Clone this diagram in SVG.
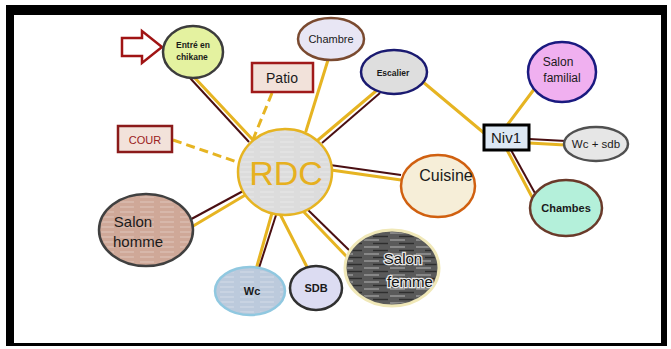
<svg xmlns="http://www.w3.org/2000/svg" width="671" height="349" viewBox="0 0 671 349">
<defs>
<style>
.lbl{font-family:"Liberation Sans","DejaVu Sans",sans-serif;fill:#1a1a1a;text-anchor:middle}
.gold{stroke:#e6b422;stroke-width:3;fill:none;stroke-linecap:round}
.maroon{stroke:#4a0f12;stroke-width:2;fill:none}
.dash{stroke:#e6b422;stroke-width:3;fill:none;stroke-dasharray:9 5}
</style>
<pattern id="streak" width="20" height="5" patternUnits="userSpaceOnUse">
<rect width="20" height="5" fill="none"/>
<line x1="0" y1="2" x2="14" y2="2" stroke="#ffffff" stroke-opacity="0.35" stroke-width="1"/>
</pattern>
<pattern id="streakW" width="26" height="7" patternUnits="userSpaceOnUse">
<line x1="0" y1="2" x2="15" y2="2" stroke="#ffffff" stroke-opacity="0.45" stroke-width="1.2"/>
<line x1="9" y1="5.5" x2="24" y2="5.5" stroke="#111" stroke-opacity="0.6" stroke-width="1.5"/>
</pattern>
</defs>
<rect width="671" height="349" fill="#ffffff"/>
<g id="frame">
<rect x="6" y="5" width="661" height="341" fill="#000"/>
<rect x="14" y="15" width="647" height="328" fill="#fff"/>
</g>
<g id="connectors">
<line class="dash" x1="272" y1="93" x2="252" y2="142"/>
<line class="dash" x1="173" y1="140" x2="240" y2="163"/>
<line class="maroon" x1="190" y1="78" x2="249" y2="142"/>
<line class="gold" x1="194" y1="77" x2="253" y2="140"/>
<line class="gold" x1="328" y1="60" x2="306" y2="131"/>
<line class="maroon" x1="380" y1="93" x2="322" y2="143"/>
<line class="gold" x1="376" y1="91" x2="318" y2="140"/>
<line class="maroon" x1="330" y1="165" x2="401" y2="175"/>
<line class="gold" x1="331" y1="170" x2="401" y2="180"/>
<line class="maroon" x1="245" y1="190" x2="184" y2="223"/>
<line class="gold" x1="247" y1="194" x2="173" y2="238"/>
<line class="gold" x1="272" y1="213" x2="253" y2="280"/>
<line class="maroon" x1="277" y1="212" x2="258" y2="271"/>
<line class="gold" x1="280" y1="214" x2="307" y2="267"/>
<line class="maroon" x1="306" y1="208" x2="351" y2="252"/>
<line class="gold" x1="302" y1="210" x2="347" y2="257"/>
<line class="gold" x1="423" y1="82" x2="484" y2="133"/>
<line class="gold" x1="508" y1="124" x2="535" y2="88"/>
<line class="maroon" x1="529" y1="139" x2="566" y2="141"/>
<line class="gold" x1="529" y1="143" x2="565" y2="145"/>
<line class="maroon" x1="511" y1="150" x2="536" y2="195"/>
<line class="gold" x1="507" y1="150" x2="532" y2="197"/>
</g>
<g id="entry-arrow">
<path d="M122,38 H142 V31 L162,47 L142,63 V56 H122 Z" fill="#fff" stroke="#a01414" stroke-width="2.5" stroke-linejoin="miter"/>
</g>
<g id="entre">
<ellipse cx="193" cy="52" rx="30" ry="26" fill="#e4f2a0" stroke="#3c3c3c" stroke-width="2.5"/>
<text class="lbl" x="193" y="48" font-size="8.5" font-weight="bold">Entré en</text>
<text class="lbl" x="192" y="60" font-size="8.5" font-weight="bold">chikane</text>
</g>
<g id="chambre">
<ellipse cx="331" cy="39" rx="33" ry="21" fill="#e8e6f4" stroke="#7a4a30" stroke-width="2.5"/>
<text class="lbl" x="331" y="43" font-size="11">Chambre</text>
</g>
<g id="patio">
<rect x="252" y="63" width="61" height="29" fill="#f2e2da" stroke="#a01a1a" stroke-width="2.5"/>
<text class="lbl" x="282" y="83" font-size="14">Patio</text>
</g>
<g id="escalier">
<ellipse cx="394" cy="72" rx="33" ry="22" fill="#dedede" stroke="#1a1a70" stroke-width="2.5"/>
<text class="lbl" x="393" y="76" font-size="8.5" font-weight="bold">Escalier</text>
</g>
<g id="cour">
<rect x="118" y="126" width="54" height="26" fill="#f2e2da" stroke="#8b1a1a" stroke-width="2.5"/>
<text class="lbl" x="145" y="144" font-size="11" style="fill:#9a2020">COUR</text>
</g>
<g id="rdc">
<ellipse cx="285" cy="172" rx="47" ry="43" fill="#dcdcdc" stroke="#e6b422" stroke-width="2.5"/>
<ellipse cx="285" cy="172" rx="45" ry="41" fill="url(#streak)"/>
<text class="lbl" x="286" y="185" font-size="34" style="fill:#e6b020">RDC</text>
</g>
<g id="cuisine">
<ellipse cx="438" cy="186" rx="37" ry="31" fill="#f6eed8" stroke="#d06010" stroke-width="2.5"/>
<text class="lbl" x="446" y="181" font-size="16">Cuisine</text>
</g>
<g id="niv1">
<rect x="484" y="125" width="45" height="25" fill="#dde8f4" stroke="#000" stroke-width="3"/>
<text class="lbl" x="506" y="143" font-size="15">Niv1</text>
</g>
<g id="salon-familial">
<ellipse cx="562" cy="72" rx="34" ry="30" fill="#f0b0f0" stroke="#1a1a80" stroke-width="2.5"/>
<text class="lbl" x="558" y="66" font-size="12">Salon</text>
<text class="lbl" x="562" y="82" font-size="12">familial</text>
</g>
<g id="wc-sdb">
<ellipse cx="596" cy="144" rx="32" ry="17" fill="#e6e6e6" stroke="#505050" stroke-width="2.5"/>
<text class="lbl" x="596" y="148" font-size="11.5">Wc + sdb</text>
</g>
<g id="chambes">
<ellipse cx="566" cy="208" rx="36" ry="28" fill="#b4f0da" stroke="#6a3a2a" stroke-width="2.5"/>
<text class="lbl" x="566" y="212" font-size="11" font-weight="bold">Chambes</text>
</g>
<g id="salon-homme">
<ellipse cx="146" cy="230" rx="47" ry="36" fill="#cfa898" stroke="#404040" stroke-width="2.5"/>
<ellipse cx="146" cy="230" rx="45" ry="34" fill="url(#streak)"/>
<text class="lbl" x="133" y="227" font-size="15">Salon</text>
<text class="lbl" x="138" y="247" font-size="15">homme</text>
</g>
<g id="wc">
<ellipse cx="250" cy="291" rx="35" ry="24" fill="#bccadc" stroke="#90c8e0" stroke-width="2.5"/>
<ellipse cx="250" cy="291" rx="33" ry="22" fill="url(#streak)"/>
<text class="lbl" x="252" y="295" font-size="11" font-weight="bold">Wc</text>
</g>
<g id="sdb">
<ellipse cx="316" cy="288" rx="26" ry="22" fill="#dcdcf2" stroke="#303030" stroke-width="2.5"/>
<text class="lbl" x="316" y="292" font-size="11" font-weight="bold">SDB</text>
</g>
<g id="salon-femme">
<ellipse cx="392" cy="268" rx="47" ry="38" fill="#5a5a5a" stroke="#f0e8b8" stroke-width="3"/>
<ellipse cx="392" cy="268" rx="45" ry="36" fill="url(#streakW)"/>
<text class="lbl" x="403" y="264" font-size="15" style="fill:#111;stroke:#e8e8e8;stroke-width:2.5;paint-order:stroke">Salon</text>
<text class="lbl" x="410" y="287" font-size="15" style="fill:#111;stroke:#e8e8e8;stroke-width:2.5;paint-order:stroke">femme</text>
</g>
</svg>
